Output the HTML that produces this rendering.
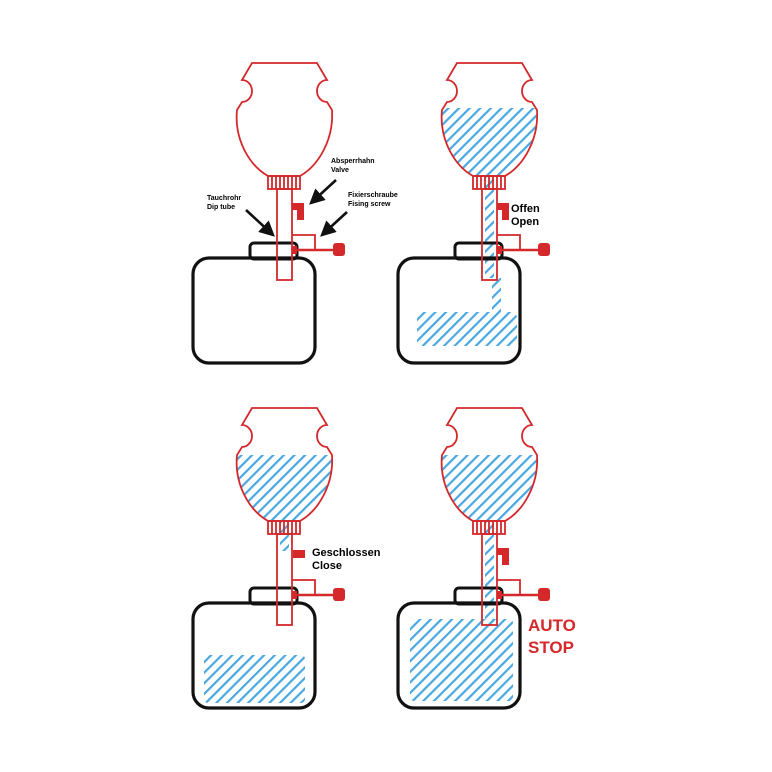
<!DOCTYPE html>
<html><head><meta charset="utf-8"><style>
html,body{margin:0;padding:0;background:#fff;}
svg{display:block}
text{font-family:"Liberation Sans",Arial,sans-serif;font-weight:bold}
</style></head><body>
<svg width="772" height="772" viewBox="0 0 772 772" xmlns="http://www.w3.org/2000/svg">
<defs>
<pattern id="h" width="7.5" height="7.5" patternUnits="userSpaceOnUse" patternTransform="rotate(45)">
<rect x="0" y="0" width="2.2" height="7.5" fill="#4aa8e0"/>
</pattern>
<path id="bottle" d="M252,63 H317 L327,80 A10,11 0 0 0 327,102 L332,110 C334,140 318,166 300,176 H268 C250,166 234,140 237,110 L242,102 A10,11 0 0 0 242,80 Z"/>
<clipPath id="bc"><use href="#bottle"/></clipPath>
<g id="base">
<rect x="193" y="258" width="122" height="105" rx="16" fill="none" stroke="#111" stroke-width="3.2"/>
<rect x="250" y="243" width="47" height="16" rx="4" fill="none" stroke="#111" stroke-width="3"/>
</g>
<g id="red" fill="none" stroke="#d4282a" stroke-width="1.8">
<use href="#bottle"/>
<rect x="268" y="176" width="32" height="13"/>
<path d="M272,176v13M276,176v13M280,176v13M284,176v13M288,176v13M292,176v13M296,176v13"/>
<rect x="277" y="189" width="15" height="91"/>
<path d="M292,235 H315 V250"/>
<path d="M293,250 H334" stroke-width="2.6"/>
<rect x="333" y="243" width="12" height="13" rx="3" fill="#d4282a" stroke="none"/>
<rect x="292" y="246" width="5" height="8" fill="#d4282a" stroke="none"/>
</g>
<path id="valveOpen" d="M292,203 H304 V220 H297 V210 H292 Z" fill="#d4282a"/>
<marker id="ar" markerWidth="6" markerHeight="6" refX="5" refY="3" orient="auto" markerUnits="strokeWidth"><path d="M0,0 L6,3 L0,6 Z" fill="#111"/></marker>
</defs>

<g>
<use href="#base"/><use href="#red"/><use href="#valveOpen"/>
<path d="M246,210 L273,235" stroke="#111" stroke-width="2.6" marker-end="url(#ar)"/>
<path d="M336,180 L311,203" stroke="#111" stroke-width="2.6" marker-end="url(#ar)"/>
<path d="M347,212 L322,235" stroke="#111" stroke-width="2.6" marker-end="url(#ar)"/>
<text x="207" y="200" font-size="7">Tauchrohr</text>
<text x="207" y="209" font-size="7">Dip tube</text>
<text x="331" y="163" font-size="7">Absperrhahn</text>
<text x="331" y="172" font-size="7">Valve</text>
<text x="348" y="197" font-size="7">Fixierschraube</text>
<text x="348" y="206" font-size="7">Fising screw</text>
</g>

<g transform="translate(205,0)">
<rect x="234" y="108" width="100" height="75" fill="url(#h)" clip-path="url(#bc)"/>
<rect x="280" y="176" width="9" height="102" fill="url(#h)"/>
<rect x="287" y="278" width="9" height="34" fill="url(#h)"/>
<rect x="212" y="312" width="100" height="34" rx="6" fill="url(#h)"/>
<use href="#base"/><use href="#red"/><use href="#valveOpen"/>
<text x="306" y="212" font-size="11">Offen</text>
<text x="306" y="225" font-size="11">Open</text>
</g>

<g transform="translate(0,345)">
<rect x="234" y="110" width="100" height="75" fill="url(#h)" clip-path="url(#bc)"/>
<rect x="280" y="176" width="9" height="30" fill="url(#h)"/>
<rect x="204" y="310" width="101" height="48" rx="4" fill="url(#h)"/>
<use href="#base"/><use href="#red"/>
<rect x="293" y="205" width="12" height="8" fill="#d4282a"/>
<text x="312" y="211" font-size="11">Geschlossen</text>
<text x="312" y="224" font-size="11">Close</text>
</g>

<g transform="translate(205,345)">
<rect x="234" y="110" width="100" height="75" fill="url(#h)" clip-path="url(#bc)"/>
<rect x="280" y="176" width="9" height="102" fill="url(#h)"/>
<rect x="205" y="274" width="103" height="82" rx="4" fill="url(#h)"/>
<use href="#base"/><use href="#red"/><use href="#valveOpen"/>
<text x="323" y="286" font-size="17" fill="#d4282a">AUTO</text>
<text x="323" y="308" font-size="17" fill="#d4282a">STOP</text>
</g>
</svg>
</body></html>
